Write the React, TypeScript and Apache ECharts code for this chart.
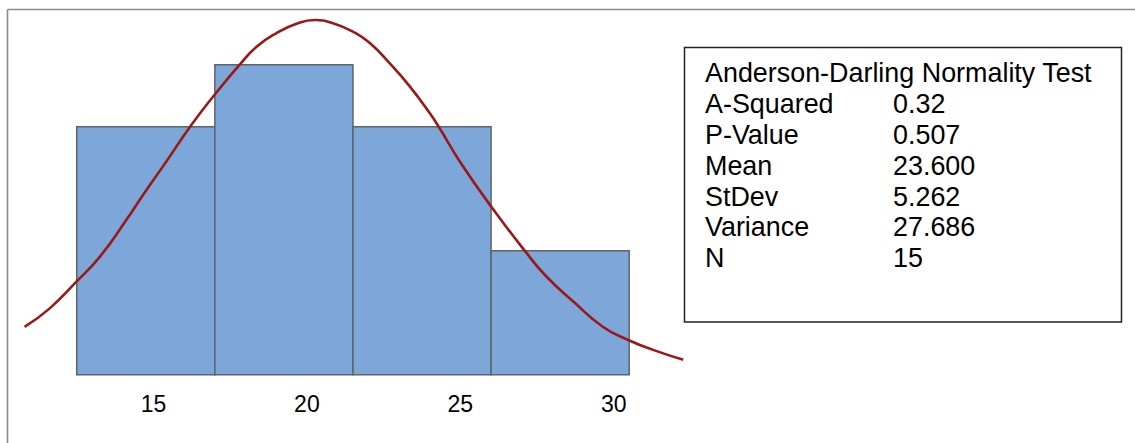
import React, { useEffect, useRef } from "react";
import * as echarts from "echarts";

// Histogram bins (bin edges on the x scale) and counts
const binStarts = [12.5, 17, 21.5, 26];
const binEnds = [17, 21.5, 26, 30.5];
const counts = [4, 5, 4, 2];

// Tick labels shown on the x axis
const xTicks = [15, 20, 25, 30];

// Fitted normal curve: x values and scaled heights
const curveX = [10.8, 11.62, 12.49, 13.25, 14.12, 14.66, 15.31, 16.24, 17.0, 17.81, 18.36, 19.01, 19.66, 20.26, 20.85, 21.51, 22.05, 22.7, 23.35, 24.0, 24.33, 24.98, 26.02, 27.16, 27.81, 28.68, 29.65, 30.47, 31.28, 32.26];
const curveY = [0.77, 1.07, 1.5, 1.9, 2.5, 2.9, 3.36, 4.03, 4.52, 5.0, 5.29, 5.51, 5.66, 5.72, 5.67, 5.53, 5.35, 5.02, 4.65, 4.22, 3.97, 3.44, 2.7, 1.96, 1.58, 1.18, 0.77, 0.56, 0.4, 0.24];

// Anderson-Darling statistics box
const statsTitle = "Anderson-Darling Normality Test";
const statLabels = ["A-Squared", "P-Value", "Mean", "StDev", "Variance", "N"];
const statValues = ["0.32", "0.507", "23.600", "5.262", "27.686", "15"];

const FONT = "'Liberation Sans', Arial, sans-serif";

export default function App() {
  const ref = useRef<HTMLDivElement>(null);

  useEffect(() => {
    if (!ref.current) return;
    const chart = echarts.init(ref.current, undefined, { renderer: "svg" });

    const barData = counts.map((c, i) => [binStarts[i], binEnds[i], c]);
    const curveData = curveX.map((x, i) => [x, curveY[i]]);

    const rowTop = 73.3;
    const rowStep = 30.8;
    const statFont = `26.9px ${FONT}`;
    const statTexts: any[] = [
      {
        type: "text",
        x: 705,
        y: rowTop,
        style: { text: statsTitle, font: statFont, fill: "#000", verticalAlign: "middle" },
      },
    ];
    statLabels.forEach((lab, i) => {
      const y = rowTop + rowStep * (i + 1);
      statTexts.push({
        type: "text",
        x: 705,
        y,
        style: { text: lab, font: statFont, fill: "#000", verticalAlign: "middle" },
      });
      statTexts.push({
        type: "text",
        x: 893,
        y,
        style: { text: statValues[i], font: statFont, fill: "#000", verticalAlign: "middle" },
      });
    });

    chart.setOption({
      animation: false,
      backgroundColor: "#ffffff",
      grid: { left: 0, right: 367.7, top: 2.7, bottom: 68.3, containLabel: false },
      xAxis: {
        type: "value",
        min: 10,
        max: 35,
        interval: 5,
        axisLine: { show: false },
        axisTick: { show: false },
        splitLine: { show: false },
        axisLabel: {
          customValues: xTicks,
          fontFamily: FONT,
          fontSize: 23,
          color: "#000",
          margin: 17.5,
        },
      },
      yAxis: {
        type: "value",
        min: 0,
        max: 6,
        show: false,
        splitLine: { show: false },
      },
      series: [
        {
          type: "custom",
          data: barData,
          encode: { x: [0, 1], y: 2 },
          renderItem: (params: any, api: any) => {
            const p0 = api.coord([api.value(0), api.value(2)]);
            const p1 = api.coord([api.value(1), 0]);
            return {
              type: "rect",
              shape: { x: p0[0], y: p0[1], width: p1[0] - p0[0], height: p1[1] - p0[1] },
              style: { fill: "#7ca7d8", stroke: "#5f6469", lineWidth: 1.5 },
            };
          },
          z: 1,
        },
        {
          type: "line",
          data: curveData,
          smooth: true,
          showSymbol: false,
          lineStyle: { color: "#9a1818", width: 2.6 },
          z: 3,
        },
      ],
      graphic: [
        {
          type: "line",
          shape: { x1: 7.5, y1: 9.5, x2: 7.5, y2: 443 },
          style: { stroke: "#8a8a8a", lineWidth: 1.6 },
        },
        {
          type: "line",
          shape: { x1: 7.5, y1: 9.5, x2: 1135, y2: 9.5 },
          style: { stroke: "#8a8a8a", lineWidth: 1.6 },
        },
        {
          type: "rect",
          shape: { x: 684.5, y: 47.5, width: 437, height: 274.5 },
          style: { fill: "#fff", stroke: "#222", lineWidth: 1.5 },
        },
        ...statTexts,
      ],
    });

    return () => chart.dispose();
  }, []);

  return (
    <div
      ref={ref}
      style={{ position: "fixed", left: 0, top: 0, width: 1135, height: 443, background: "#fff" }}
    />
  );
}
